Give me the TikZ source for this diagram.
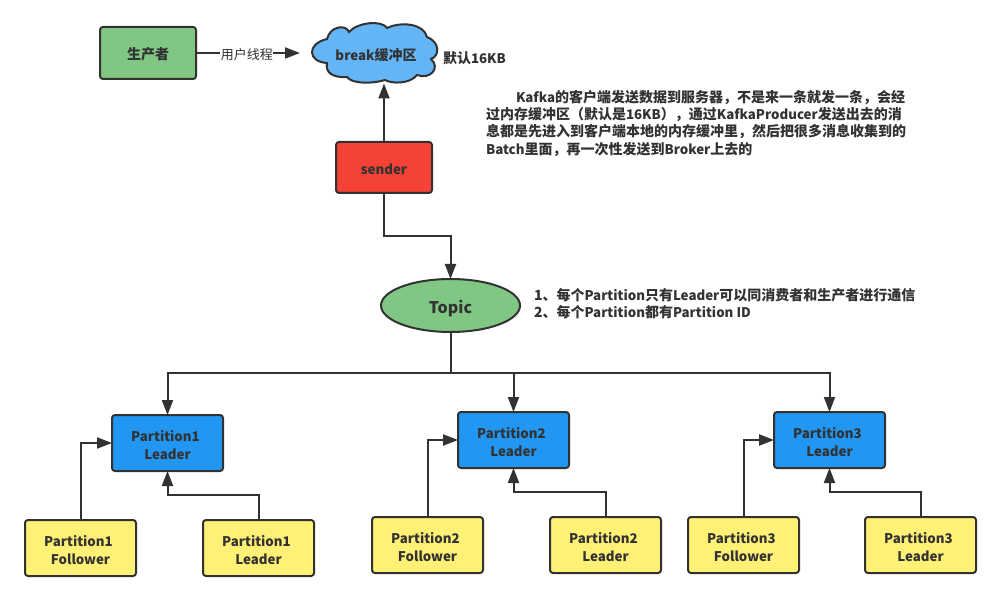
\documentclass[tikz,border=0pt]{standalone}
\usepackage{fontspec}
\setmainfont{Noto Sans CJK SC}
\usetikzlibrary{arrows.meta,calc,shapes.geometric}
\definecolor{ink}{HTML}{323232}
\definecolor{grn}{HTML}{81C784}
\definecolor{redb}{HTML}{F44336}
\definecolor{cloudb}{HTML}{64B5F6}
\definecolor{blueb}{HTML}{2196F3}
\definecolor{yel}{HTML}{FFF176}
\newcommand\lat[1]{{\fontsize{13.3}{17}\selectfont #1}}
\newcommand\tp{\rule{0pt}{15pt}}
\tikzset{
  base/.style={draw=ink,line width=2pt,rounded corners=3pt,align=center,inner sep=0pt,outer sep=0pt,text=ink,font=\fontsize{13.3}{18}\selectfont\bfseries},
  greenbox/.style={base,fill=grn,minimum width=96pt,minimum height=52pt,font=\fontsize{14}{18}\selectfont\bfseries},
  redbox/.style={base,fill=redb,minimum width=96pt,minimum height=51pt},
  bluebox/.style={base,fill=blueb,minimum width=111pt,minimum height=56pt},
  yelbox/.style={base,fill=yel,minimum width=111pt,minimum height=56pt},
  topicnode/.style={base,ellipse,fill=grn,minimum width=139pt,minimum height=53pt,font=\fontsize{16}{20}\selectfont\bfseries},
  note/.style={inner sep=0pt,outer sep=0pt,anchor=west,align=left,text=ink,font=\fontsize{14}{17.3}\selectfont\bfseries},
  conn/.style={draw=ink,line width=2pt,-{Triangle[length=15pt,width=11pt]}},
  lbl/.style={fill=white,inner sep=0.5pt,text=ink,font=\fontsize{13}{17}\selectfont}
}
\begin{document}
\begin{tikzpicture}[x=1pt,y=-1pt]
\useasboundingbox (0,0) rectangle (1001,601);
\fill[white] (0,0) rectangle (1001,601);
% cloud outline
\draw[draw=ink,line width=2pt,fill=cloudb]
  (327,39) .. controls (330,26) and (346,24) .. (349,32)
  .. controls (358,22) and (382,20) .. (387,28)
  .. controls (402,21) and (424,24) .. (427,37)
  .. controls (440,42) and (440,56) .. (431,59)
  .. controls (441,68) and (430,80) .. (417,75)
  .. controls (410,84) and (392,84) .. (385,80)
  .. controls (372,84) and (352,84) .. (347,77)
  .. controls (332,78) and (325,72) .. (327,63)
  .. controls (308,62) and (306,44) .. (327,39) -- cycle;
\node[inner sep=0pt,outer sep=0pt,minimum width=125pt,minimum height=57pt,text=ink,font=\fontsize{14}{18}\selectfont\bfseries] (cloud) at (376,55) {\lat{break}缓冲区};
\node[greenbox] (producer) at (148,53) {\tp 生产者};
\node[redbox] (sender) at (384,167.5) {\tp sender};
\coordinate (bufin) at (300,53);
\node[topicnode] (topic) at (450.5,305.5) {\rule{0pt}{19pt}Topic};
\node[note,anchor=west,font=\fontsize{14}{17}\selectfont\bfseries] (size) at (443,58) {默认\lat{16KB}};
\node[note,anchor=north west] (para) at (486,90) {\hspace*{30pt}\lat{Kafka}的客户端发送数据到服务器，不是来一条就发一条，会经\\过内存缓冲区（默认是\lat{16KB}），通过\lat{KafkaProducer}发送出去的消\\息都是先进入到客户端本地的内存缓冲里，然后把很多消息收集到的\\\lat{Batch}里面，再一次性发送到\lat{Broker}上去的};
\node[note] (rule1) at (534,295) {1、每个\lat{Partition}只有\lat{Leader}可以同消费者和生产者进行通信};
\node[note] (rule2) at (534,312) {2、每个\lat{Partition}都有\lat{Partition ID}};
% group 1
\node[bluebox] (p1) at (167.5,443) {\tp Partition1\hspace*{4pt}\\Leader};
\node[yelbox] (f1) at (80.5,548) {\tp Partition1\hspace*{4pt}\\Follower};
\node[yelbox] (l1) at (258.5,548) {\tp Partition1\hspace*{4pt}\\Leader};
% group 2
\node[bluebox] (p2) at (513.5,440) {\tp Partition2\hspace*{4pt}\\Leader};
\node[yelbox] (f2) at (427.5,545) {\tp Partition2\hspace*{4pt}\\Follower};
\node[yelbox] (l2) at (605.5,545) {\tp Partition2\hspace*{4pt}\\Leader};
% group 3
\node[bluebox] (p3) at (829.5,440) {\tp Partition3\hspace*{4pt}\\Leader};
\node[yelbox] (f3) at (743.5,545) {\tp Partition3\hspace*{4pt}\\Follower};
\node[yelbox] (l3) at (920.5,545) {\tp Partition3\hspace*{4pt}\\Leader};
% connectors
\draw[conn] (producer.east) -- node[lbl,pos=0.49,yshift=-1.5pt] {用户线程} (bufin);
\draw[conn] (sender.north) -- (sender.north |- cloud.south);
\draw[conn] (sender.south) -- ++(0,43) -| (topic.north);
\draw[conn] (topic.south) -- ++(0,41) -| (p1.north);
\draw[conn] (topic.south) -- ++(0,41) -| (p2.north);
\draw[conn] (topic.south) -- ++(0,41) -| (p3.north);
\draw[conn] (f1.north) |- (p1.west);
\draw[conn] (l1.north) -- ++(0,-25) -| (p1.south);
\draw[conn] (f2.north) |- (p2.west);
\draw[conn] (l2.north) -- ++(0,-25) -| (p2.south);
\draw[conn] (f3.north) |- (p3.west);
\draw[conn] (l3.north) -- ++(0,-25) -| (p3.south);
\end{tikzpicture}
\end{document}
